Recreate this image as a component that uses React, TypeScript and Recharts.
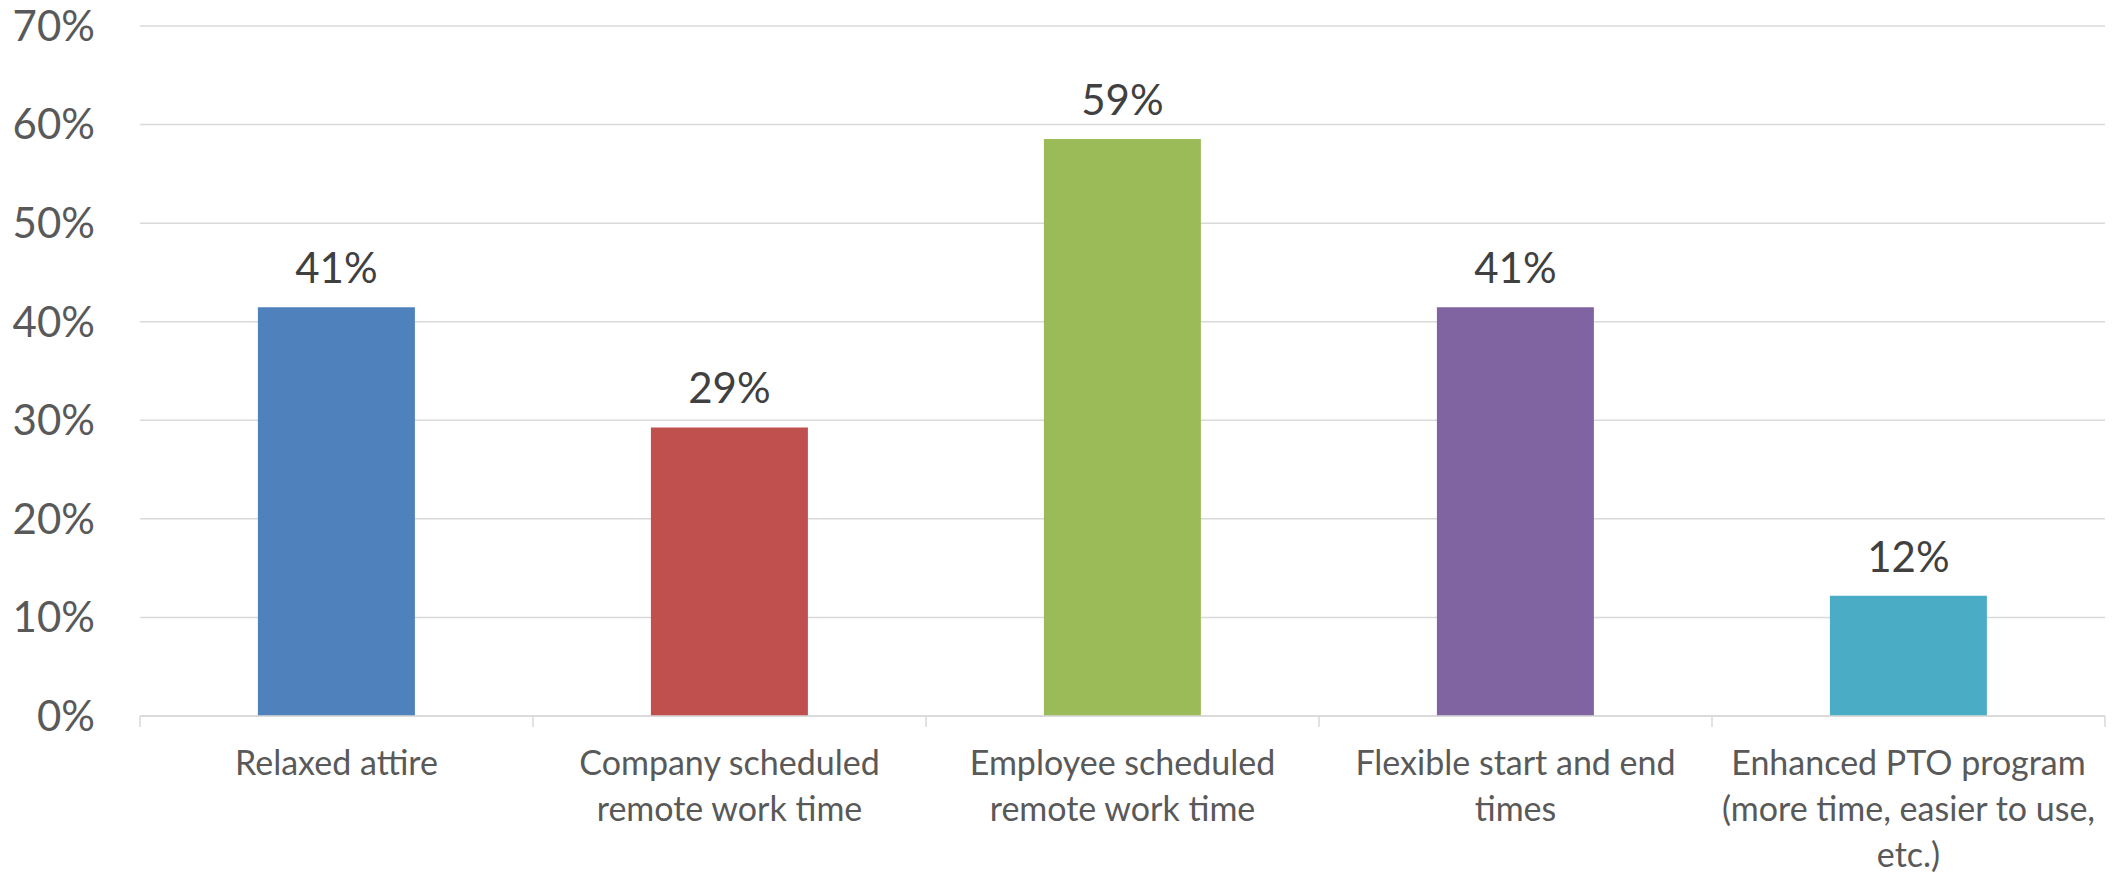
import { BarChart, Bar, XAxis, YAxis, CartesianGrid, Cell, LabelList } from 'recharts';

const CATEGORIES = [
  'Relaxed attire',
  'Company scheduled\nremote work time',
  'Employee scheduled\nremote work time',
  'Flexible start and end\ntimes',
  'Enhanced PTO program\n(more time, easier to use,\netc.)',
];
const SHARES = [0.4146, 0.2927, 0.5854, 0.4146, 0.122];
const BAR_COLORS = ['#4F81BD', '#C0504D', '#9BBB59', '#8064A2', '#4BACC6'];
const Y_TICKS = [0, 0.1, 0.2, 0.3, 0.4, 0.5, 0.6, 0.7];

const CHART_W = 2112;
const CHART_H = 874;
const MARGIN = { top: 26, right: 7, bottom: 0, left: 0 };
const Y_AXIS_W = 140;
const X_AXIS_H = 158;
const PLOT_W = CHART_W - MARGIN.left - MARGIN.right - Y_AXIS_W;
const BAND = PLOT_W / CATEGORIES.length;

const FONT = 'Lato, "Open Sans", sans-serif';
const GRID = '#D9D9D9';

const data = CATEGORIES.map((name, i) => ({ name, share: SHARES[i] }));

const pct = (v: number) => `${Math.round(v * 100)}%`;

function CategoryTick(props: any) {
  const { x, y, payload, index } = props;
  const lines: string[] = String(payload.value).split('\n');
  const half = BAND / 2;
  return (
    <g>
      <line x1={x - half} x2={x - half} y1={y} y2={y + 11} stroke={GRID} strokeWidth={1.5} />
      {index === CATEGORIES.length - 1 && (
        <line x1={x + half} x2={x + half} y1={y} y2={y + 11} stroke={GRID} strokeWidth={1.5} />
      )}
      <text x={x} y={y + 59} textAnchor="middle" fill="#595959" fontSize={34} fontFamily={FONT}>
        {lines.map((line, i) => (
          <tspan key={i} x={x} dy={i === 0 ? 0 : 46}>
            {line}
          </tspan>
        ))}
      </text>
    </g>
  );
}

export default function App() {
  return (
    <div style={{ width: CHART_W, height: CHART_H, background: '#fff' }}>
      <style>{'body{margin:0}'}</style>
      <BarChart
        width={CHART_W}
        height={CHART_H}
        data={data}
        margin={MARGIN}
        barCategoryGap="30%"
      >
        <CartesianGrid vertical={false} stroke={GRID} strokeWidth={1.5} />
        <XAxis
          dataKey="name"
          height={X_AXIS_H}
          interval={0}
          axisLine={{ stroke: GRID, strokeWidth: 1.5 }}
          tickLine={false}
          tickSize={0}
          tickMargin={0}
          tick={<CategoryTick />}
        />
        <YAxis
          width={Y_AXIS_W}
          domain={[0, 0.7]}
          ticks={Y_TICKS}
          tickFormatter={pct}
          axisLine={false}
          tickLine={false}
          tickSize={0}
          tickMargin={45}
          tick={{ fontSize: 42, fill: '#595959', fontFamily: FONT }}
        />
        <Bar dataKey="share" isAnimationActive={false}>
          {data.map((entry, i) => (
            <Cell key={entry.name} fill={BAR_COLORS[i]} />
          ))}
          <LabelList
            dataKey="share"
            position="top"
            offset={24}
            formatter={(v: any) => pct(Number(v))}
            fill="#404040"
            fontSize={42}
            fontFamily={FONT}
          />
        </Bar>
      </BarChart>
    </div>
  );
}
